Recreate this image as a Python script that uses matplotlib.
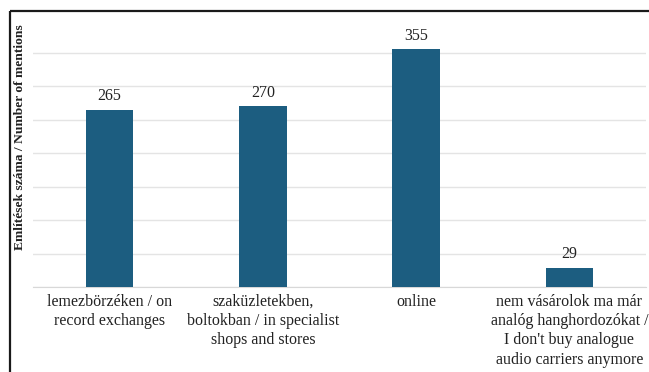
import matplotlib
matplotlib.use("Agg")
import matplotlib.pyplot as plt
from matplotlib.lines import Line2D

categories = [
    "lemezbörzéken / on\nrecord exchanges",
    "szaküzletekben,\nboltokban / in specialist\nshops and stores",
    "online",
    "nem vásárolok ma már\nanalóg hanghordozókat /\nI don't buy analogue\naudio carriers anymore",
]
mentions = [265, 270, 355, 29]

plt.rcParams['font.family'] = ['Liberation Serif', 'DejaVu Serif']
text_color = '#222222'
bar_color = '#1c5d80'

W, H = 649, 372
fig = plt.figure(figsize=(W / 100, H / 100), dpi=100)
ymax = 380
px_per_unit = 177.4 / 265
ax = fig.add_axes([33 / W, 85 / H, 613 / W, ymax * px_per_unit / H])

x = range(len(categories))
bars = ax.bar(x, mentions, width=0.31, color=bar_color, zorder=3)
for b, v in zip(bars, mentions):
    ax.annotate(str(v), (b.get_x() + b.get_width() / 2, v), xytext=(0, 4),
                textcoords='offset points', ha='center', va='bottom',
                fontsize=11.5, color=text_color)

ax.set_xlim(-0.5, len(categories) - 0.5)
ax.set_ylim(0, ymax)
ax.set_yticks(range(0, 351, 50))
ax.set_yticklabels([])
ax.tick_params(axis='y', length=0)
ax.yaxis.grid(True, color='#e4e4e4', linewidth=1.0, zorder=0)
ax.set_xticks(list(x))
ax.set_xticklabels(categories, fontsize=11.5, color=text_color, linespacing=1.27)
ax.tick_params(axis='x', length=0, pad=5)
for s in ['top', 'right', 'left']:
    ax.spines[s].set_visible(False)
ax.spines['bottom'].set_color('#d8d8d8')

fig.text(20 / W, 1 - 137 / H, "Említések száma / Number of mentions",
         rotation=90, ha='center', va='center', fontsize=9.7,
         fontweight='bold', color=text_color)

# frame lines seen at top and left of the picture
fig.add_artist(Line2D([10 / W, 1.01], [1 - 11 / H, 1 - 11 / H], color='#1a1a1a',
                      linewidth=1.6, solid_capstyle='butt'))
fig.add_artist(Line2D([10 / W, 10 / W], [-0.01, 1 - 11 / H], color='#1a1a1a',
                      linewidth=1.6, solid_capstyle='butt'))

fig.savefig("out.png", dpi=100)
